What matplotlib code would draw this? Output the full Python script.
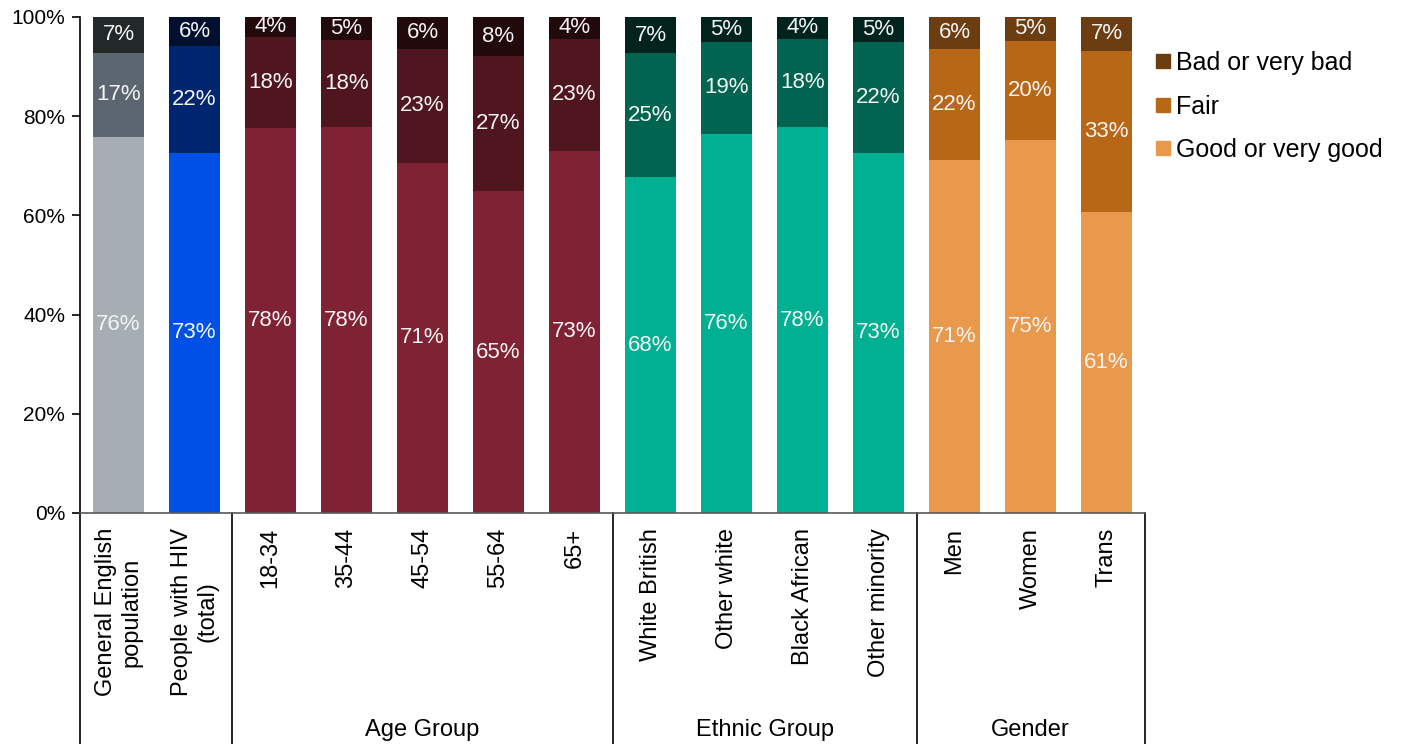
import matplotlib
matplotlib.use('Agg')
import matplotlib.pyplot as plt
from matplotlib.lines import Line2D
import numpy as np

plt.rcParams['font.family'] = ['Liberation Sans', 'DejaVu Sans']

# self-rated health, % of respondents in each category
categories = ['General English\npopulation', 'People with HIV\n(total)',
              '18-34', '35-44', '45-54', '55-64', '65+',
              'White British', 'Other white', 'Black African', 'Other minority',
              'Men', 'Women', 'Trans']
groups = ['general', 'hiv', 'age', 'age', 'age', 'age', 'age',
          'ethnic', 'ethnic', 'ethnic', 'ethnic', 'gender', 'gender', 'gender']
good = [75.9, 72.6, 77.7, 77.8, 70.6, 64.9, 73.0, 67.7, 76.4, 77.8, 72.6, 71.2, 75.2, 60.6]
fair = [16.9, 21.6, 18.3, 17.6, 23.0, 27.2, 22.6, 25.0, 18.6, 17.8, 22.4, 22.4, 20.0, 32.6]
bad = [7.2, 5.8, 4.0, 4.6, 6.4, 7.9, 4.4, 7.3, 5.0, 4.4, 5.0, 6.4, 4.8, 6.8]
series_names = ['Good or very good', 'Fair', 'Bad or very bad']

group_titles = [('Age Group', 2, 6), ('Ethnic Group', 7, 10), ('Gender', 11, 13)]
separators = [-0.5, 1.5, 6.5, 10.5, 13.5]

# (good, fair, bad) shades for each group
palette = {
    'general': ('#A5AEB3', '#5C6670', '#232829'),
    'hiv': ('#0050E6', '#00256F', '#00102E'),
    'age': ('#7F2334', '#501620', '#22090C'),
    'ethnic': ('#00B092', '#006450', '#00241C'),
    'gender': ('#E8994B', '#B86717', '#6B3D10'),
}

fig = plt.figure(figsize=(14.02, 7.44), dpi=100)
ax = fig.add_axes([0.0574, 0.3105, 0.759, 0.6667])

x = np.arange(len(categories))
bottom = np.zeros(len(categories))
for k, vals in enumerate([good, fair, bad]):
    cols = [palette[g][k] for g in groups]
    bars = ax.bar(x, vals, width=0.67, bottom=bottom, color=cols, linewidth=0)
    ax.bar_label(bars, labels=['{:.0f}%'.format(v) for v in vals],
                 label_type='center', color='#F4F4F4', fontsize=16)
    bottom += np.array(vals)

ax.set_xlim(-0.5, 13.5)
ax.set_ylim(0, 100)
ax.set_yticks(np.arange(0, 101, 20))
ax.set_yticklabels(['{}%'.format(v) for v in range(0, 101, 20)], fontsize=15)
ax.tick_params(axis='y', length=6, width=1.2, pad=5)
ax.set_xticks([])
for s in ['top', 'right']:
    ax.spines[s].set_visible(False)
ax.spines['left'].set_linewidth(1.2)
ax.spines['bottom'].set_color('#595959')
ax.spines['bottom'].set_linewidth(1.2)

trans = ax.get_xaxis_transform()
for i, name in enumerate(categories):
    ax.text(i, -0.03, name, rotation=90, ha='center', va='top',
            multialignment='center', fontsize=17, transform=trans)

for sx in separators:
    ax.plot([sx, sx], [0, -0.47], color='black', linewidth=1.2,
            transform=trans, clip_on=False)

for title, a, b in group_titles:
    ax.text((a + b) / 2, -0.45, title, ha='center', va='baseline',
            fontsize=17, transform=trans)

# legend uses the gender shades, darkest on top
handles = [Line2D([], [], linestyle='none', marker='s', markersize=9.5,
                  color=palette['gender'][k]) for k in (2, 1, 0)]
fig.legend(handles, [series_names[k] for k in (2, 1, 0)],
           loc='upper left', bbox_to_anchor=(1156 / 1402, 1 - 51 / 744),
           frameon=False, fontsize=18, handlelength=0.55, handletextpad=0.25,
           labelspacing=0.78, borderpad=0, borderaxespad=0)

fig.savefig('out.png', dpi=100)
